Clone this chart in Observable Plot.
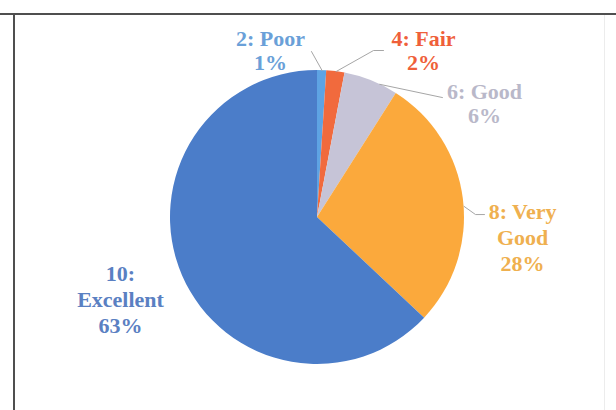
<!DOCTYPE html>
<html><head><meta charset="utf-8">
<style>
html,body{margin:0;padding:0;background:#fff;}
#wrap{position:relative;width:616px;height:410px;overflow:hidden;background:#fff;}
#chart{position:absolute;left:0;top:0;}
#chart svg text{font-family:"Liberation Serif",serif;font-weight:bold;}
.ft{position:absolute;left:0;top:13px;width:616px;height:2px;background:#4f4f4f;}
.fl{position:absolute;left:13px;top:13px;width:2px;height:397px;background:#4f4f4f;}
.fr{position:absolute;left:604px;top:15px;width:1px;height:395px;background:#ececec;}
.primer{position:absolute;left:0;top:0;visibility:hidden;font:bold 22px "Liberation Serif";white-space:nowrap;}
</style>
<script src="https://cdn.jsdelivr.net/npm/d3@7"></script>
<script src="https://cdn.jsdelivr.net/npm/@observablehq/plot@0.6"></script>
</head><body>
<div class="primer" aria-hidden="true">0123456789:% PoorFairGoodVeryExcellent</div>
<div id="wrap"><div id="chart"></div><div class="ft"></div><div class="fl"></div><div class="fr"></div></div>
<script>
// ---- data ----
const categories = ["2: Poor", "4: Fair", "6: Good", "8: Very Good", "10: Excellent"];
const percents = [1, 2, 6, 28, 63];
const labelNames = [["2: Poor"], ["4: Fair"], ["6: Good"], ["8: Very", "Good"], ["10:", "Excellent"]];

// ---- styles ----
const sliceColors = ["#5ea3e3", "#f16a3d", "#c6c4d7", "#fba93c", "#4b7dc9"];
const textColors = ["#6aa0d8", "#ef5f3a", "#b9b8c9", "#efb04f", "#5a80c2"];

// ---- label layout (pie units, centre = 0,0, radius = 1) ----
const labelX = [-0.32, 0.721, 1.136, 1.395, -1.34];
const labelY = [1.136, 1.136, 0.779, -0.129, -0.554];
const leaderX = [[-0.041], [0.381, 0.449], [0.85], [1.075, 1.136], []];
const leaderY = [[1.129], [1.136, 1.136], [0.816], [0.02, 0.02], []];
const leaderStart = [0, 0, 0.06, 0.05, 0];

const slices = categories.map((c, i) => ({category: c, value: percents[i]}));
const arcs = d3.pie().sort(null).value(d => d.value)(slices);

const leaders = [];
arcs.forEach((a, i) => {
  if (!leaderX[i].length) return;
  const mid = (a.startAngle + a.endAngle) / 2 + leaderStart[i];
  leaders.push({category: categories[i], x: Math.sin(mid), y: Math.cos(mid)});
  leaderX[i].forEach((lx, j) => leaders.push({category: categories[i], x: lx, y: leaderY[i][j]}));
});

const pieMark = (index, scales) => {
  const cx = scales.x(0), cy = scales.y(0), r = scales.x(1) - scales.x(0);
  const arc = d3.arc().innerRadius(0).outerRadius(r);
  const g = d3.create("svg:g").attr("transform", `translate(${cx},${cy})`);
  g.selectAll("path").data(arcs).join("path")
    .attr("d", arc)
    .attr("fill", d => scales.color(d.data.category));
  return g.node();
};

const FONT = "Liberation Serif";

function render() {
  const plot = Plot.plot({
    width: 616,
    height: 410,
    margin: 0,
    style: {fontFamily: FONT, fontWeight: "bold", background: "transparent"},
    x: {axis: null, domain: [-1, 1], range: [170, 464]},
    y: {axis: null, domain: [-1, 1], range: [364, 70]},
    color: {type: "ordinal", domain: categories, range: sliceColors},
    marks: [
      Plot.dot(slices, {x: () => 0, y: () => 0, fill: "category", r: 0}),
      pieMark,
      Plot.line(leaders, {x: "x", y: "y", z: "category", stroke: "#a6a6a6", strokeWidth: 1}),
      ...categories.map((c, i) => Plot.text([c], {
        x: labelX[i], y: labelY[i],
        text: () => [...labelNames[i], percents[i] + "%"].join("\n"),
        fill: textColors[i],
        fontFamily: FONT,
        fontWeight: "bold",
        fontSize: 22,
        lineHeight: labelNames[i].length > 1 ? 1.18 : 1.09,
        lineAnchor: "middle"
      }))
    ]
  });
  document.getElementById("chart").replaceChildren(plot);
  plot.querySelectorAll("text").forEach(t => getComputedStyle(t).fontFamily);
}
render();
if (document.fonts && document.fonts.load) {
  document.fonts.load('bold 22px "Liberation Serif"').then(render, () => {});
}
</script>
</body></html>
